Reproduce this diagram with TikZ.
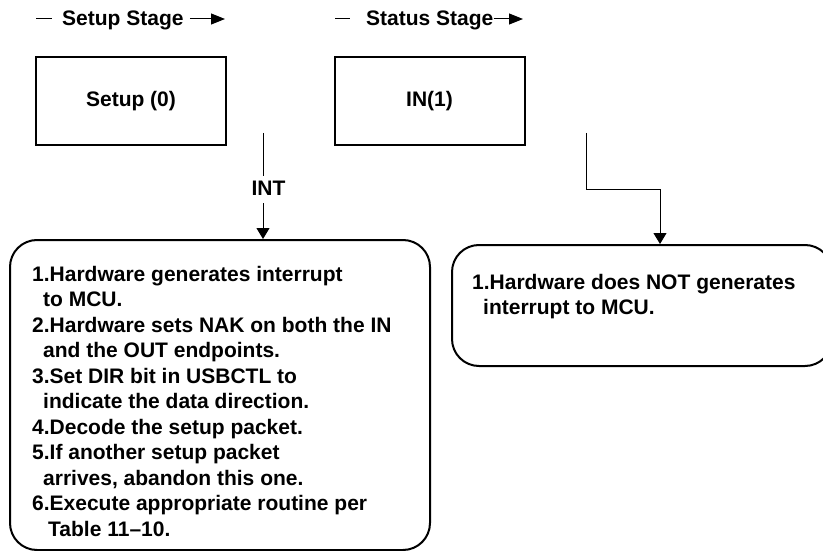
\documentclass[tikz,border=0pt]{standalone}
\usepackage{fontspec}
\setmainfont{Liberation Sans}
\usetikzlibrary{arrows.meta}
\tikzset{
  every node/.style={font=\bfseries\fontsize{21}{25.5}\selectfont, inner sep=0pt},
  stagebox/.style={draw, line width=2pt, minimum width=190pt, minimum height=88pt},
  roundbox/.style={draw, line width=2pt, rounded corners=27pt},
  conn/.style={line width=1pt, -{Triangle[length=11pt,width=13pt]}},
  headarrow/.style={line width=1pt, -{Triangle[length=14pt,width=11pt]}},
  headdash/.style={line width=1pt},
  body/.style={align=left, anchor=north west}
}
\begin{document}
\begin{tikzpicture}[x=1pt,y=-1pt]
\useasboundingbox (0,0) rectangle (823,551);
\clip (0,0) rectangle (823,551);
% headers
\node[anchor=base west] (hs) at (62,26) {Setup Stage};
\draw[headdash] ([xshift=-26pt]hs.west |- 0,19) -- ([xshift=-10pt]hs.west |- 0,19);
\coordinate (hsA) at (225,19);
\draw[headarrow] (hs.east |- 0,19) ++(6pt,0) -- (hsA);
\node[anchor=base west] (ht) at (366,26) {Status Stage};
\draw[headdash] ([xshift=-31pt]ht.west |- 0,19) -- ([xshift=-16pt]ht.west |- 0,19);
\coordinate (htA) at (523,19);
\draw[headarrow] (ht.east |- 0,19) -- (htA);
% stage boxes
\node[stagebox] (setup) at (131,101) {Setup (0)};
\node[stagebox] (in) at (429.5,101) {IN(1)};
% rounded boxes
\node[roundbox, minimum width=420pt, minimum height=310pt] (lbox) at (220,395) {};
\node[roundbox, minimum width=380pt, minimum height=121pt] (rbox) at (642,305.5) {};
% texts
\node[body] (ltext) at (32,266) {1.Hardware generates interrupt\\
\hspace*{11pt}to MCU.\\
2.Hardware sets NAK on both the IN\\
\hspace*{11pt}and the OUT endpoints.\\
3.Set DIR bit in USBCTL to\\
\hspace*{11pt}indicate the data direction.\\
4.Decode the setup packet.\\
5.If another setup packet\\
\hspace*{11pt}arrives, abandon this one.\\
6.Execute appropriate routine per\\
\hspace*{16pt}Table 11–10.};
\node[body] (rtext) at (472,274) {1.Hardware does NOT generates\\
\hspace*{11pt}interrupt to MCU.};
% connectors
\coordinate (intS) at (263,133);
\node (int) at (268.5,188) {INT};
\draw[line width=1pt] (intS) -- (263,176);
\draw[conn] (263,203) -- (lbox.north -| 263,0);
\coordinate (stS) at (586,133);
\draw[conn] (stS) |- (660,189) -- (rbox.north -| 660,0);
\end{tikzpicture}
\end{document}
